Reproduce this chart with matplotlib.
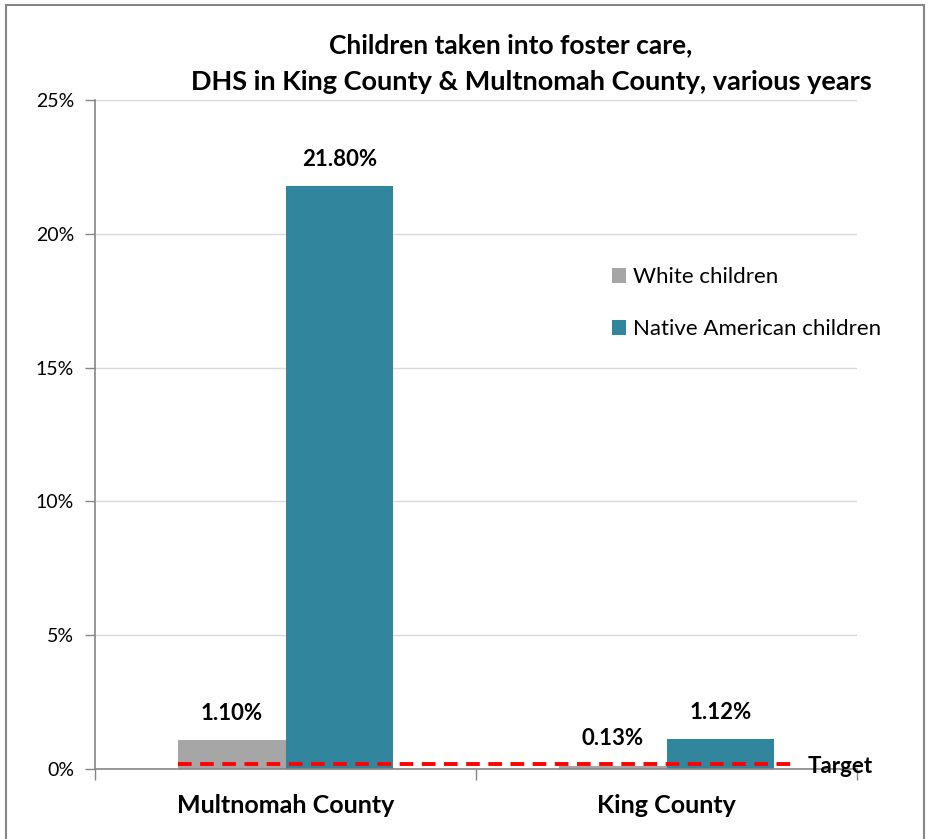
import numpy as np
import matplotlib.pyplot as plt
from matplotlib.patches import Rectangle

# data
categories = ['Multnomah County', 'King County']
white = [1.10, 0.13]
native = [21.80, 1.12]
target = 0.2
yticks = [0, 5, 10, 15, 20, 25]

plt.rcParams['font.family'] = ['Lato', 'DejaVu Sans']

fig = plt.figure(figsize=(9.3, 8.39), dpi=100)
ax = fig.add_axes([95 / 930, 1 - 769 / 839, 762 / 930, 669 / 839])

x = np.arange(len(categories))
w = 0.283
gray = '#A6A6A6'
teal = '#31859C'

ax.bar(x - w / 2, white, w, color=gray, label='White children', zorder=2)
ax.bar(x + w / 2, native, w, color=teal, label='Native American children', zorder=2)

for xi, v in zip(x - w / 2, white):
    ax.text(xi, v + 0.6, '%.2f%%' % v, ha='center', va='bottom',
            fontsize=16, fontweight='bold')
for xi, v in zip(x + w / 2, native):
    ax.text(xi, v + 0.6, '%.2f%%' % v, ha='center', va='bottom',
            fontsize=16, fontweight='bold')

ax.hlines(target, -w, 1.33, colors='#FF0000', linestyles=(0, (3.5, 2.2)),
          linewidth=2.8, zorder=3)
ax.text(1.37, target - 0.1, 'Target', ha='left', va='center', fontsize=16,
        fontweight='bold')

ax.set_xlim(-0.5, 1.5)
ax.set_ylim(0, 25)
ax.set_yticks(yticks)
ax.set_yticklabels(['%d%%' % t for t in yticks], fontsize=14)
ax.yaxis.grid(True, color='#D9D9D9', linewidth=1, zorder=0)
ax.set_axisbelow(True)

ax.set_xticks(x)
ax.set_xticklabels(categories, fontsize=18, fontweight='bold')
ax.tick_params(axis='x', length=0, pad=18)
ax.set_xticks([-0.5, 0.5, 1.5], minor=True)
ax.tick_params(axis='x', which='minor', length=8, color='#868686', width=1)
ax.tick_params(axis='y', length=7, color='#868686', width=1, pad=8)

for s in ['top', 'right']:
    ax.spines[s].set_visible(False)
for s in ['left', 'bottom']:
    ax.spines[s].set_color('#868686')
    ax.spines[s].set_linewidth(1.2)

ax.legend(loc='upper left', bbox_to_anchor=(0.652, 0.78), frameon=False,
          fontsize=16, handlelength=0.65, handleheight=0.65, handletextpad=0.3,
          labelspacing=1.45)

fig.text(511 / 930, 1 - 45 / 839, 'Children taken into foster care,', ha='center',
         va='center', fontsize=19, fontweight='bold')
fig.text(531 / 930, 1 - 82 / 839, 'DHS in King County & Multnomah County, various years',
         ha='center', va='center', fontsize=19.5, fontweight='bold')

fig.patches.append(Rectangle((6 / 930, -0.01), 918 / 930, 1.01 - 5 / 839,
                             transform=fig.transFigure, fill=False,
                             edgecolor='#868686', linewidth=1.5))

fig.savefig('out.png', dpi=100)
